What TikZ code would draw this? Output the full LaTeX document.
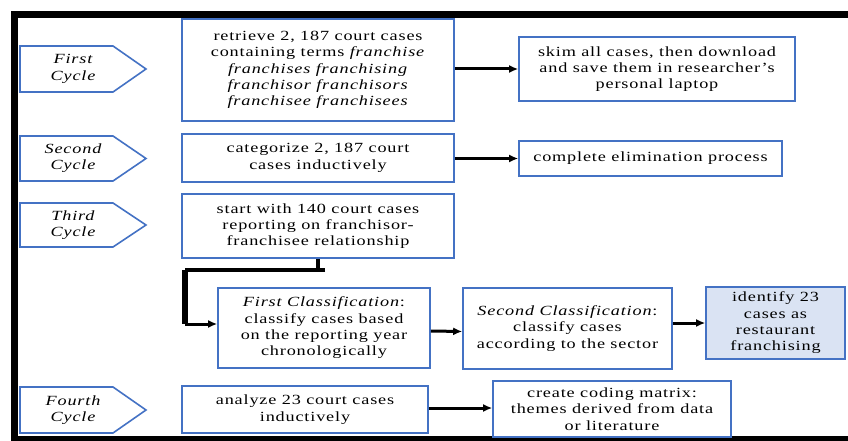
\documentclass[tikz,border=0pt]{standalone}
\usepackage{fontspec}
\setmainfont{Liberation Serif}[FakeStretch=1.3,LetterSpace=6]
\usetikzlibrary{arrows.meta}
\definecolor{bblue}{RGB}{68,114,196}
\definecolor{lblue}{RGB}{218,227,243}
\begin{document}
\begin{tikzpicture}[x=1pt,y=-1pt,
  box/.style={draw=bblue,line width=1.6,fill=white,align=center,inner sep=2,
    font=\fontsize{14}{16.3}\selectfont},
  cyc/.style={draw=bblue,line width=1.6},
  cyctext/.style={align=center,font=\fontsize{14}{16.3}\selectfont\itshape},
  arr/.style={line width=3,-{Latex[length=9,width=8]}},
  link/.style={line width=3.5}]
\useasboundingbox (0,0) rectangle (848,441);
% frame
\fill[black] (11,11) rectangle (848,18);
\fill[black] (11,11) rectangle (18,441);
\fill[black] (11,436) rectangle (848,441);
% cycle labels
\draw[cyc] (20,46) -- (113,46) -- (146,69) -- (113,92) -- (20,92) -- cycle;
\node[cyctext] (c1) at (73,69) {First\\Cycle};
\draw[cyc] (20,136) -- (113,136) -- (146,158.5) -- (113,181) -- (20,181) -- cycle;
\node[cyctext] (c2) at (73,158.5) {Second\\Cycle};
\draw[cyc] (20,203) -- (113,203) -- (146,225) -- (113,247) -- (20,247) -- cycle;
\node[cyctext] (c3) at (73,225) {Third\\Cycle};
\draw[cyc] (20,387) -- (113,387) -- (146,410) -- (113,433) -- (20,433) -- cycle;
\node[cyctext] (c4) at (73,410) {Fourth\\Cycle};
% boxes
\node[box,minimum width=272,minimum height=102] (b1) at (318,70)
  {retrieve 2, 187 court cases\\containing terms \textit{franchise}\\\textit{franchises franchising}\\\textit{franchisor franchisors}\\\textit{franchisee franchisees}};
\node[box,minimum width=276,minimum height=64] (skim) at (657,69)
  {skim all cases, then download\\and save them in researcher’s\\personal laptop};
\node[box,minimum width=272,minimum height=48] (b2) at (318,158)
  {categorize 2, 187 court\\cases inductively};
\node[box,minimum width=263,minimum height=35] (elim) at (650.5,158.5)
  {complete elimination process};
\node[box,minimum width=272,minimum height=64] (b3) at (318,226)
  {start with 140 court cases\\reporting on franchisor-\\franchisee relationship};
\node[box,minimum width=212,minimum height=80] (fc) at (324,328)
  {\textit{First Classification}:\\classify cases based\\on the reporting year\\chronologically};
\node[box,minimum width=209,minimum height=81] (sc) at (567.5,328.5)
  {\textit{Second Classification}:\\classify cases\\according to the sector};
\node[box,fill=lblue,minimum width=139,minimum height=72] (idf) at (775.5,323)
  {identify 23\\cases as\\restaurant\\franchising};
\node[box,minimum width=246,minimum height=47] (anl) at (305,409.5)
  {analyze 23 court cases\\inductively};
\node[box,minimum width=238,minimum height=56] (cod) at (612,409)
  {create coding matrix:\\themes derived from data\\or literature};
% connectors
\draw[arr] (b1.east |- skim.west) -- (skim.west);
\draw[arr] (b2.east |- elim.west) -- (elim.west);
\coordinate (k1) at (318,270);
\coordinate (k2) at (185,270);
\coordinate (k3) at (185,324);
\draw[link] (b3.south) -- (k1);
\draw[link] (325,270) -- (k2);
\draw[line width=5.5] (k2) -- (k3);
\draw[arr] (k3) -- (k3 -| fc.west);
\draw[arr] ([yshift=-3]fc.east) -- ([yshift=-3]sc.west);
\draw[arr] (sc.east |- idf.west) -- (idf.west);
\draw[arr] (anl.east |- 0,408) -- (cod.west |- 0,408);
\end{tikzpicture}
\end{document}
